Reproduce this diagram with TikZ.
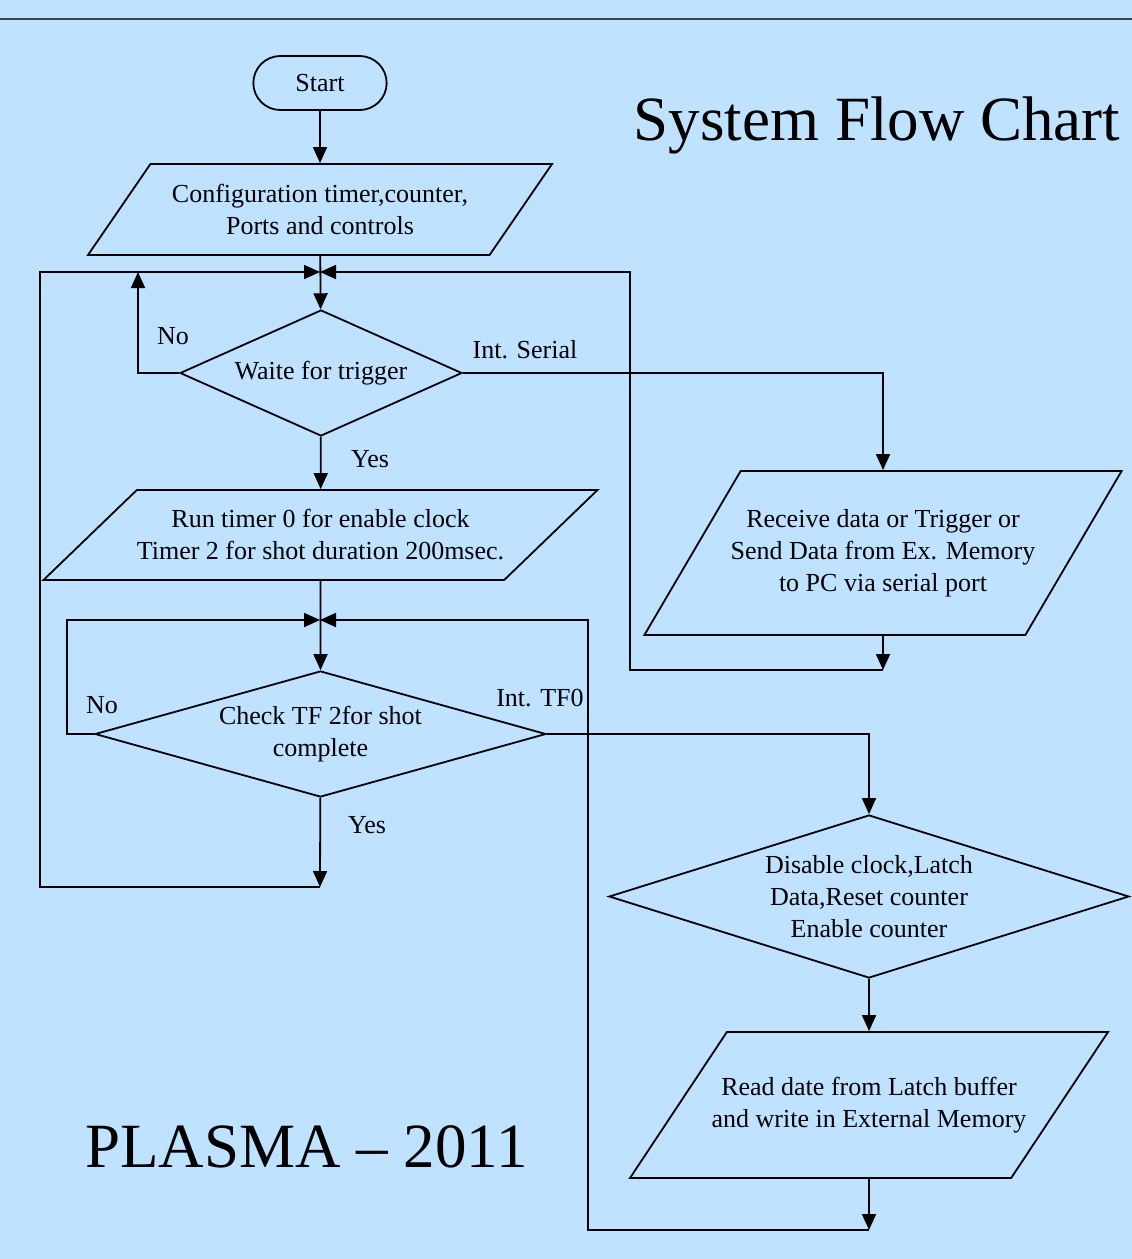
\documentclass[tikz,border=0pt]{standalone}
\usepackage{fontspec}
\setmainfont{Liberation Serif}
\usepackage {tikz}
\usetikzlibrary {positioning}
\usetikzlibrary{shapes.misc}
\usetikzlibrary{shapes.geometric}
\usetikzlibrary{arrows.meta}
\definecolor{paneblue}{RGB}{190,226,255}
\tikzset{
    boxtext/.style = {font=\fontsize{26}{32}\selectfont, align=center},
    terminal/.style = {rounded rectangle,draw,boxtext,minimum width=140pt,minimum height=54pt},
    io/.style = {trapezium,draw,boxtext,trapezium stretches body=true,inner sep=0pt,
        trapezium left angle=#1,trapezium right angle=180-#1},
    decision/.style = {diamond,draw,boxtext,inner sep=0pt,aspect=#1},
    flow/.style = {-{Triangle[length=16pt,width=14pt]}},
    lbl/.style = {font=\fontsize{26}{32}\selectfont},
    bigtext/.style = {font=\fontsize{63}{70}\selectfont, anchor=base}}

\begin{document}
\begin{tikzpicture}[x=1pt,y=-1pt,line width=1.8pt]
    \fill[paneblue] (0,0) rectangle (1132,1259);
    \useasboundingbox (0,0) rectangle (1132,1259);
    \draw[black!75,line width=2pt] (0,19) -- (1132,19);

    \node[bigtext] (title) at (877,140) {System Flow Chart};
    \node[bigtext] (plasma) at (306.5,1167) {PLASMA -- 2011};

    \node[terminal] (start) at (320,83) {Start};
    \node[io=39,minimum width=464pt,minimum height=91pt] (config) at (320,209.5)
        {Configuration timer,counter,\\Ports and controls};
    \node[decision=2.24,minimum width=282pt,minimum height=126pt] (wait) at (321,373) {Waite for trigger};
    \node[io=28.5,minimum width=553pt,minimum height=90pt] (run) at (320.5,535)
        {Run timer 0 for enable clock\\Timer 2 for shot duration 200msec.};
    \node[decision=3.58,minimum width=451pt,minimum height=126pt] (check) at (320.5,734)
        {Check TF 2for shot\\complete};
    \node[io=42.3,inner xsep=-10pt,minimum width=474pt,minimum height=164pt] (receive) at (883,553)
        {Receive data or Trigger or\\Send Data from Ex. Memory\\to PC via serial port};
    \node[decision=3.19,minimum width=520pt,minimum height=163pt] (disable) at (869,896.5)
        {Disable clock,Latch\\Data,Reset counter\\Enable counter};
    \node[io=30,inner xsep=-22pt,minimum width=478pt,minimum height=146pt] (read) at (869,1105)
        {Read date from Latch buffer\\and write in External Memory};

    \coordinate (join1) at (320,272);
    \coordinate (join2) at (320,620);
    \coordinate (no1) at (138,272);
    \coordinate (end1) at (320,887);
    \coordinate (end2) at (883,670);
    \coordinate (end3) at (869,1230);

    \draw[flow] (start) -- (config);
    \draw[flow] (config) -- (wait);
    \draw[flow] (wait.west) -| (no1);
    \draw[flow] (end1) -| (40,272) -- (join1);
    \draw[flow] (wait.east) -| (receive.north);
    \draw[flow] (receive) -- (end2);
    \draw[flow] (end2) -| (630,272) -- (join1);
    \draw[flow] (wait) -- (run);
    \draw[flow] (run) -- (check);
    \draw[flow] (check.west) -| (67,620) -- (join2);
    \draw[flow] (check) -- (end1);
    \draw[flow] (check.east) -| (disable.north);
    \draw[flow] (disable) -- (read);
    \draw[flow] (read) -- (end3);
    \draw[flow] (end3) -| (588,620) -- (join2);

    \node[lbl] (no) at (173,336) {No};
    \node[lbl] (serial) at (525,350) {Int. Serial};
    \node[lbl] (yes) at (370,459) {Yes};
    \node[lbl] (no2) at (102,705) {No};
    \node[lbl] (tf0) at (540,698) {Int. TF0};
    \node[lbl] (yes2) at (367,825) {Yes};
\end{tikzpicture}
\end{document}
